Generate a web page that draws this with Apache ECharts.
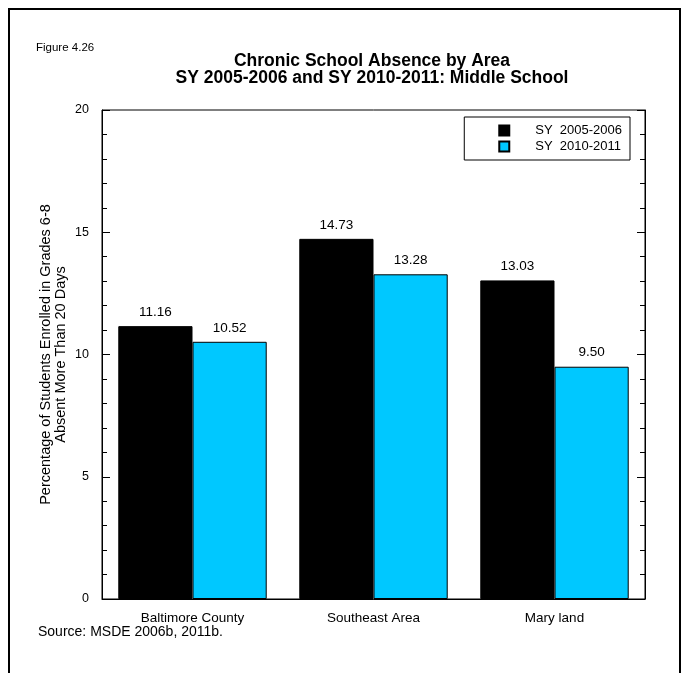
<!DOCTYPE html>
<html>
<head>
<meta charset="utf-8">
<script src="https://cdn.jsdelivr.net/npm/echarts@6/dist/echarts.min.js"></script>
<style>
html,body{margin:0;padding:0;background:#fff;}
#chart{width:689px;height:673px;}
</style>
</head>
<body>
<div id="chart"></div>
<script>
const categories = ['Baltimore County', 'Southeast Area', 'Mary land'];
const seriesNames = ['SY  2005-2006', 'SY  2010-2011'];
const values2005 = [11.16, 14.73, 13.03];
const values2010 = [10.52, 13.28, 9.50];
const yTicks = [0, 5, 10, 15, 20];

const FONT = 'Liberation Sans, Arial, sans-serif';
const chart = echarts.init(document.getElementById('chart'), null, {renderer: 'canvas'});

const yAxisBase = {
  type: 'value', min: yTicks[0], max: yTicks[yTicks.length - 1], interval: 5,
  splitLine: {show: false},
  axisLine: {show: true, lineStyle: {color: '#000', width: 1}},
  axisTick: {show: true, inside: true, length: 8, lineStyle: {color: '#000'}},
  minorTick: {show: true, splitNumber: 5, length: 5, lineStyle: {color: '#000'}},
};

chart.setOption({
  backgroundColor: '#fff',
  animation: false,
  grid: {left: 102, right: 44, top: 110, bottom: 74, show: true, borderColor: '#000', borderWidth: 1, backgroundColor: 'transparent'},
  legend: {
    right: 59, top: 117, orient: 'vertical',
    itemWidth: 10, itemHeight: 10, itemGap: 3,
    borderColor: '#000', borderWidth: 1, borderRadius: 0,
    padding: [7, 8, 7, 34],
    backgroundColor: '#fff',
    textStyle: {fontFamily: FONT, fontSize: 13, color: '#000', padding: [0, 0, 0, 21]},
    data: seriesNames.map(n => ({name: n, icon: 'rect'}))
  },
  xAxis: {
    type: 'category', data: categories,
    axisLine: {show: true, lineStyle: {color: '#000'}},
    axisTick: {show: false},
    axisLabel: {fontFamily: FONT, fontSize: 13.5, color: '#000', margin: 12}
  },
  yAxis: [
    Object.assign({}, yAxisBase, {
      position: 'left',
      axisLabel: {fontFamily: FONT, fontSize: 12.5, color: '#000', margin: 13},
      name: 'Percentage of Students Enrolled in Grades 6-8\nAbsent More Than 20 Days',
      nameLocation: 'middle', nameGap: 34, nameRotate: 90, nameMoveOverlap: false,
      nameTextStyle: {fontFamily: FONT, fontSize: 14.5, color: '#000', lineHeight: 14.5}
    }),
    Object.assign({}, yAxisBase, {
      position: 'right',
      axisLabel: {show: false}
    })
  ],
  series: [
    {
      name: seriesNames[0], type: 'bar', data: values2005, yAxisIndex: 0,
      barWidth: '41%', barGap: '0%',
      itemStyle: {color: '#000', borderColor: '#000', borderWidth: 1},
      label: {show: true, position: 'top', distance: 7, fontFamily: FONT, fontSize: 13.5, color: '#000',
        formatter: p => p.value.toFixed(2)}
    },
    {
      name: seriesNames[1], type: 'bar', data: values2010, yAxisIndex: 0,
      barWidth: '41%', barGap: '0%',
      itemStyle: {color: '#00C8FF', borderColor: '#000', borderWidth: 1},
      label: {show: true, position: 'top', distance: 7, fontFamily: FONT, fontSize: 13.5, color: '#000',
        formatter: p => p.value.toFixed(2)}
    }
  ],
  graphic: [
    {type: 'rect', shape: {x: 9, y: 9, width: 671, height: 720},
      style: {fill: 'none', stroke: '#000', lineWidth: 2}, silent: true},
    {type: 'text', x: 36, y: 48, style: {text: 'Figure 4.26', font: '11.5px ' + FONT, fill: '#000', verticalAlign: 'middle'}},
    {type: 'text', x: 372, y: 61, style: {text: 'Chronic School Absence by Area',
      font: 'bold 17.5px ' + FONT, fill: '#000', align: 'center', verticalAlign: 'middle'}},
    {type: 'text', x: 372, y: 78, style: {text: 'SY 2005-2006 and SY 2010-2011: Middle School',
      font: 'bold 17.5px ' + FONT, fill: '#000', align: 'center', verticalAlign: 'middle'}},
    {type: 'text', x: 38, y: 632, style: {text: 'Source: MSDE 2006b, 2011b.', font: '14px ' + FONT, fill: '#000', verticalAlign: 'middle'}}
  ]
});
</script>
</body>
</html>
